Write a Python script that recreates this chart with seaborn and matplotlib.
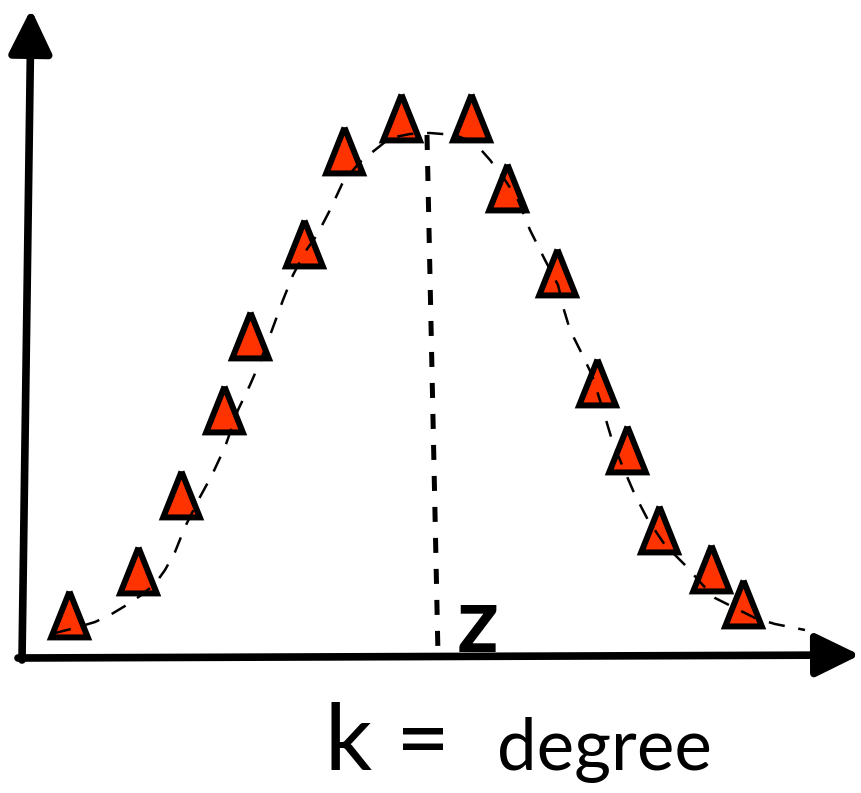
import numpy as np
import pandas as pd
import seaborn as sns
import matplotlib.pyplot as plt

# measured points (degree k, count) in arbitrary units
deg_k = [2.35, 5.8, 7.95, 10.1, 11.4, 14.1, 16.1, 18.95,
         22.45, 24.25, 26.75, 28.75, 30.25, 31.85, 34.45, 36.05]
count = [2.15, 4.35, 8.15, 12.4, 16.1, 20.7, 25.35, 27.0,
         27.0, 23.5, 19.25, 13.75, 10.4, 6.4, 4.45, 2.7]

# hand drawn guide curve through the points
curve_x = [1.65, 2.65, 3.65, 4.4, 5.15, 5.9, 6.65, 7.15, 7.65, 8.15, 8.9, 9.5,
           10.15, 10.8, 11.4, 11.9, 12.5, 13.05, 13.55, 14.15, 14.75, 15.4,
           16.05, 16.9, 17.65, 18.4, 19.4, 20.4, 21.65, 22.65, 23.4, 24.15,
           24.8, 25.4, 26.15, 26.8, 27.1, 27.4, 27.9, 28.5, 29.05, 29.5, 30.0,
           30.65, 31.3, 32.15, 33.15, 33.9, 34.65, 35.65, 36.65, 37.65, 39.15]
curve_y = [1.2, 1.45, 1.75, 2.1, 2.55, 3.05, 3.65, 4.35, 5.25, 6.5, 8.0, 9.1,
           10.5, 12.35, 13.6, 14.75, 16.35, 17.85, 19.1, 20.25, 21.1, 22.35,
           23.75, 24.75, 25.35, 25.95, 26.15, 26.2, 26.1, 25.7, 24.85, 23.85,
           22.85, 21.35, 19.85, 18.6, 17.35, 16.35, 15.35, 14.1, 12.35, 10.85,
           9.6, 8.1, 6.85, 5.6, 4.6, 3.75, 2.95, 2.45, 1.95, 1.65, 1.35]

# peak marker line (z)
peak_x = [20.25, 20.8]
peak_y = [26.1, 0.1]

sns.set_style('white')
plt.rcParams['font.family'] = ['Lato', 'DejaVu Sans']
plt.rcParams['text.color'] = 'black'

fig = plt.figure(figsize=(8.61, 7.93), dpi=100)
ax = fig.add_axes([0, 0, 1, 1])
ax.set_xlim(-1.1, 41.95)
ax.set_ylim(-6.8, 32.85)
ax.axis('off')

pts = pd.DataFrame({'k': deg_k, 'n': count})
tri = [(0, 1), (-0.8, -1), (0.8, -1), (0, 1)]
sns.scatterplot(data=pts, x='k', y='n', ax=ax, marker=tri, s=33 ** 2,
                color='#ff3300', edgecolor='black', linewidth=4.3, zorder=3)
ax.collections[0].set_joinstyle('miter')

crv = pd.DataFrame({'k': curve_x, 'n': curve_y})
sns.lineplot(data=crv, x='k', y='n', ax=ax, sort=False, color='black',
             lw=1.8, linestyle=(0, (6.5, 5.5)), zorder=4)

ax.plot(peak_x, peak_y, color='black', lw=3.6, linestyle=(0, (3.0, 3.2)), zorder=2)

# axes as arrows
arrow = dict(arrowstyle='-|>,head_length=1.35,head_width=0.66', lw=5.5,
             color='black', shrinkA=0, shrinkB=0, mutation_scale=20)
ax.annotate('', xy=(0.45, 32.4), xytext=(0.0, -0.15), arrowprops=arrow)
ax.annotate('', xy=(41.9, 0.1), xytext=(-0.2, -0.05), arrowprops=arrow)

ax.text(21.75, 0.25, 'z', fontsize=66, fontweight='bold', color='black',
        ha='left', va='baseline')
fig.text(325 / 861, 1 - 770 / 793, 'k =', fontsize=67, color='black',
         ha='left', va='baseline')
fig.text(497 / 861, 1 - 770 / 793, 'degree', fontsize=51, color='black',
         ha='left', va='baseline')

plt.savefig('out.png', dpi=100)
